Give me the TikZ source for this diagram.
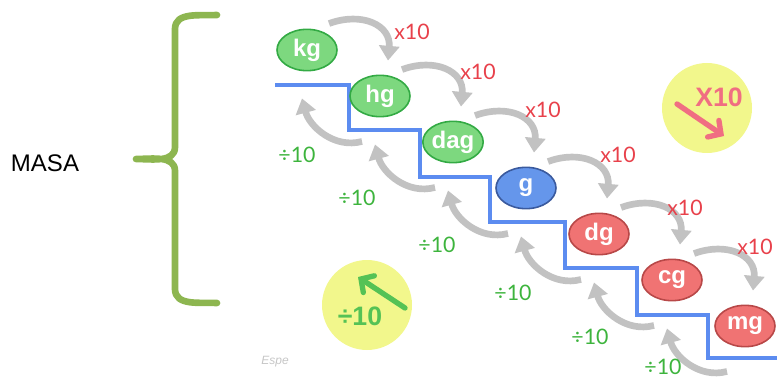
\documentclass[tikz,border=0pt]{standalone}
\usepackage{fontspec}
\setmainfont{Liberation Sans}
\newfontfamily\labelfont{Lato}
\usetikzlibrary{calc}
\usetikzlibrary{shapes.geometric}
\usetikzlibrary{arrows.meta}
\usetikzlibrary{positioning}
\definecolor{multfill}{HTML}{7DD87F}
\definecolor{multline}{HTML}{33AA44}
\definecolor{gramfill}{HTML}{6596EB}
\definecolor{gramline}{HTML}{3A5A9E}
\definecolor{subfill}{HTML}{F07373}
\definecolor{subline}{HTML}{B84848}
\definecolor{stairblue}{HTML}{5C8CF0}
\definecolor{arrowgray}{HTML}{C2C2C2}
\definecolor{timesred}{HTML}{E8414B}
\definecolor{divgreen}{HTML}{3DB43D}
\definecolor{badgeyellow}{HTML}{F2F78C}
\definecolor{badgepink}{HTML}{F06E82}
\definecolor{badgegreen}{HTML}{55C255}
\definecolor{bracegreen}{HTML}{8DB650}
\tikzset{
	unit/.style={ellipse, draw, line width=1.2pt, minimum width=45pt, minimum height=31pt, inner sep=0pt, text=white, font=\bfseries\fontsize{18}{18}\selectfont},
	multiple/.style={unit, fill=multfill, draw=multline},
	gram/.style={unit, fill=gramfill, draw=gramline},
	submultiple/.style={unit, fill=subfill, draw=subline},
	stair/.style={draw=stairblue, line width=3pt},
	mularrow/.style={draw=arrowgray, line width=5pt, -{Triangle[width=15pt,length=11pt]}},
	divarrow/.style={mularrow},
	mul/.style={text=timesred, font=\labelfont\fontsize{16}{16}\selectfont},
	dvd/.style={text=divgreen, font=\labelfont\fontsize{16}{16}\selectfont},
	badge/.style={circle, fill=badgeyellow, minimum size=67.5pt, inner sep=0pt},
	badgetext/.style={font=\bfseries\fontsize{20}{20}\selectfont},
	badgearrow/.style={line width=4pt, line cap=round, -{Straight Barb[length=7pt,width=15pt,line cap=round]}},
	curly/.style={draw=bracegreen, line width=5pt, line cap=round, line join=round}
}

\begin{document}
\begin{tikzpicture}[x=0.75pt, y=0.75pt, node distance=34.5pt and 54.75pt, on grid]
\useasboundingbox (0,0) rectangle (777,379);

\node[font=\fontsize{18}{18}\selectfont] (masa) at (45,216) {MASA};
\draw[curly] (217,364) to[out=183, in=90] (175,350) -- (175,232) to[out=-90, in=0] (136,220)
	to[out=0, in=90] (175,208) -- (175,90) to[out=-90, in=177] (217,76);

\draw[stair] (275,294) -| (349,249) -| (420,202) -| (490,157) -| (565,111) -| (637,64) -| (708,21) -- (780,21);

\node[multiple] (kg) at (307,329) {kg};
\node[multiple, below right=of kg] (hg) {hg};
\node[multiple, below right=of hg] (dag) {dag};
\node[gram, below right=of dag] (g) {g};
\node[submultiple, below right=of g] (dg) {dg};
\node[submultiple, below right=of dg] (cg) {cg};
\node[submultiple, below right=of cg] (mg) {mg};

\draw[mularrow] ($(kg.north)+(22,5)$) to[out=20, in=85, looseness=1.3] ($(hg.north)+(8,14)$);
\draw[mularrow] ($(hg.north)+(22,5)$) to[out=20, in=85, looseness=1.3] ($(dag.north)+(8,14)$);
\draw[mularrow] ($(dag.north)+(22,5)$) to[out=20, in=85, looseness=1.3] ($(g.north)+(8,14)$);
\draw[mularrow] ($(g.north)+(22,5)$) to[out=20, in=85, looseness=1.3] ($(dg.north)+(8,14)$);
\draw[mularrow] ($(dg.north)+(22,5)$) to[out=20, in=85, looseness=1.3] ($(cg.north)+(8,14)$);
\draw[mularrow] ($(cg.north)+(22,5)$) to[out=20, in=85, looseness=1.3] ($(mg.north)+(8,14)$);

\draw[divarrow] ($(hg.south)+(-18,-24)$) to[out=195, in=-75] ($(kg.south)+(-5,-27)$);
\draw[divarrow] ($(dag.south)+(-18,-24)$) to[out=195, in=-75] ($(hg.south)+(-5,-27)$);
\draw[divarrow] ($(g.south)+(-18,-24)$) to[out=195, in=-75] ($(dag.south)+(-5,-27)$);
\draw[divarrow] ($(dg.south)+(-18,-24)$) to[out=195, in=-75] ($(g.south)+(-5,-27)$);
\draw[divarrow] ($(cg.south)+(-18,-24)$) to[out=195, in=-75] ($(dg.south)+(-5,-27)$);
\draw[divarrow] ($(mg.south)+(-18,-24)$) to[out=195, in=-75] ($(cg.south)+(-5,-27)$);

\node[mul] (x1) at (412,347) {x10};
\node[mul] (x2) at (478,307) {x10};
\node[mul] (x3) at (543,269) {x10};
\node[mul] (x4) at (618,224) {x10};
\node[mul] (x5) at (685,171) {x10};
\node[mul] (x6) at (755,132) {x10};

\node[dvd] (d1) at (297,224) {÷10};
\node[dvd] (d2) at (357,181) {÷10};
\node[dvd] (d3) at (437,134) {÷10};
\node[dvd] (d4) at (513,86) {÷10};
\node[dvd] (d5) at (590,42) {÷10};
\node[dvd] (d6) at (663,12) {÷10};

\node[badge] (down) at (707,271) {};
\node[badgetext, text=badgepink] (downtext) at ($(down)+(12,11)$) {X10};
\draw[badgearrow, badgepink] ($(down)+(-30,4)$) -- ($(down)+(17,-28)$);

\node[badge] (up) at (367,74) {};
\node[badgetext, text=badgegreen] (uptext) at ($(up)+(-7,-11)$) {÷10};
\draw[badgearrow, badgegreen] ($(up)+(38,-3)$) -- ($(up)+(-9,28)$);

\node[text=gray!45, font=\itshape\fontsize{9}{9}\selectfont] (sign) at (275,17) {Espe};
\end{tikzpicture}
\end{document}
